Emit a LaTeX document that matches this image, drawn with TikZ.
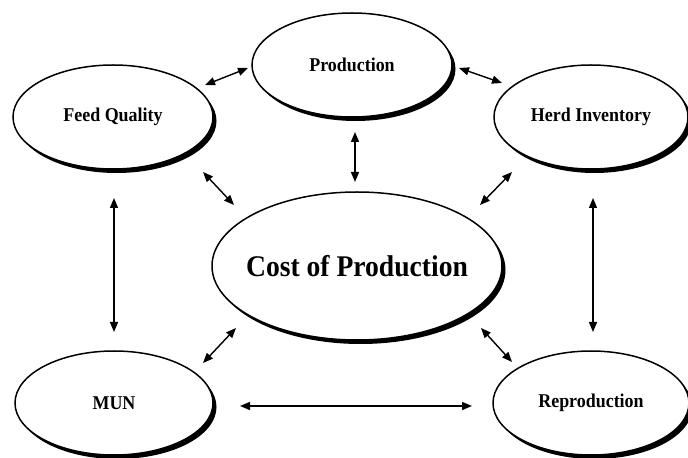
\documentclass[tikz,border=0pt]{standalone}
\usepackage{fontspec}
\setmainfont{Liberation Serif}[FakeStretch=0.92]
\usetikzlibrary{shapes.geometric,arrows.meta,shadows}
\begin{document}
\begin{tikzpicture}[x=1bp,y=-1bp,
  topic/.style={ellipse, draw, line width=1.5bp, fill=white, inner sep=0pt,
    font=\bfseries\fontsize{19.5bp}{22bp}\selectfont,
    general shadow={fill=black, shadow xshift=3.5bp, shadow yshift=-4bp}},
  tip/.style={Triangle[length=10bp,width=8bp]},
  link/.style={{Triangle[length=10bp,width=8bp]}-{Triangle[length=10bp,width=8bp]}, line width=1.4bp}]
\useasboundingbox (0,0) rectangle (688,458);

% factors around the central ellipse
\node[topic, minimum width=200bp, minimum height=104bp] (fq)   at (113,117) {Feed Quality};
\node[topic, minimum width=200bp, minimum height=104bp] (prod) at (352,65)  {Production};
\node[topic, minimum width=194bp, minimum height=104bp] (herd) at (591,117) {Herd Inventory};
\node[topic, minimum width=198bp, minimum height=104bp] (mun)  at (114,403) {MUN};
\node[topic, minimum width=196bp, minimum height=104bp] (rep)  at (591,403) {Reproduction};
\node[topic, minimum width=290bp, minimum height=148bp, inner xsep=-40bp,
      font=\bfseries\fontsize{30bp}{33bp}\selectfont] (cost) at (357,266) {Cost of Production};

% arrow end points in the gaps between the ellipses
\coordinate (fqA)   at (205,85);  \coordinate (prodA) at (248,68);
\coordinate (prodB) at (459,68);  \coordinate (herdA) at (502,83);
\coordinate (prodC) at (355,132); \coordinate (costA) at (355,182);
\coordinate (fqB)   at (203,172); \coordinate (costB) at (234,205);
\coordinate (herdB) at (512,172); \coordinate (costC) at (480,205);
\coordinate (fqC)   at (114,198); \coordinate (munA)  at (114,332);
\coordinate (herdC) at (593,198); \coordinate (repA)  at (593,332);
\coordinate (munB)  at (203,363); \coordinate (costD) at (236,328);
\coordinate (costE) at (481,328); \coordinate (repB)  at (512,362);
\coordinate (munC)  at (240,406); \coordinate (repC)  at (472,406);

% two-way relations
\draw[link] (fqA) -- (prodA);
\draw[link] (prodB) -- (herdA);
\draw[link] (prodC) -- (costA);
\draw[link] (fqB) -- (costB);
\draw[link] (herdB) -- (costC);
\draw[link] (fqC) -- (munA);
\draw[link] (herdC) -- (repA);
\draw[link] (munB) -- (costD);
\draw[link] (costE) -- (repB);
\draw[link] (munC) -- (repC);
\end{tikzpicture}
\end{document}
